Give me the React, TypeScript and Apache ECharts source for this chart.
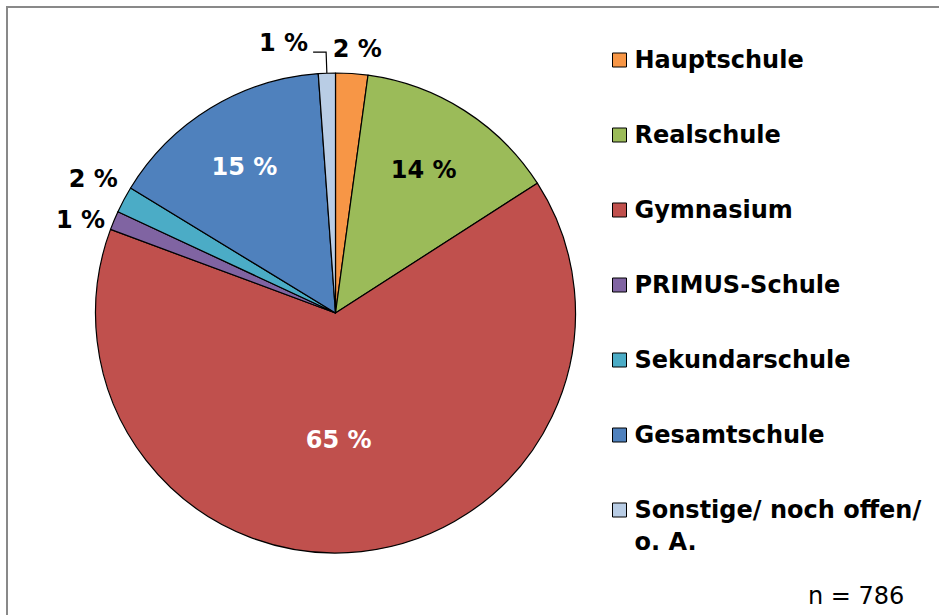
import React, { useEffect, useRef } from 'react';
import * as echarts from 'echarts';

const categories = [
  'Hauptschule',
  'Realschule',
  'Gymnasium',
  'PRIMUS-Schule',
  'Sekundarschule',
  'Gesamtschule',
  'Sonstige/ noch offen/ o. A.',
];
const counts = [17, 108, 509, 10, 14, 119, 9];
const colors = ['#F79646', '#9BBB59', '#C0504D', '#8064A2', '#4BACC6', '#4F81BD', '#B9CDE5'];
const labelPlacement = ['outside', 'inside', 'inside', 'outside', 'outside', 'inside', 'outside'];
const labelColors = ['#000', '#000', '#fff', '#000', '#000', '#fff', '#000'];
const labelNudge: (number[] | null)[] = [[-24, -25], [22, -39], [-10, 5], [-4, 0], [-1, -21], [-27, -41], null];

export default function App() {
  const ref = useRef<HTMLDivElement>(null);
  useEffect(() => {
    const chart = echarts.init(ref.current!, null, { renderer: 'svg' });
    const font = 'DejaVu Sans';
    const total = counts.reduce((a, b) => a + b, 0);
    const data = categories.map((name, i) => ({
      name,
      value: counts[i],
      itemStyle: { color: colors[i] },
      label: {
        position: labelPlacement[i],
        color: labelColors[i],
        lineHeight: i === 6 ? 18 : undefined,
      },
      labelLine: { show: i === 6, length: i === 6 ? 21 : 0, length2: i === 6 ? 13 : 0 },
    }));
    const legendText = {
      fontFamily: font,
      fontWeight: 'bold',
      fontSize: 24,
      lineHeight: 32,
      color: '#000',
      padding: [0, 0, 0, 3],
    };
    chart.setOption({
      animation: false,
      backgroundColor: '#fff',
      graphic: [
        {
          type: 'rect',
          silent: true,
          shape: { x: 7, y: 7, width: 1000, height: 1000 },
          style: { fill: 'none', stroke: '#898989', lineWidth: 2 },
        },
      ],
      title: {
        text: `n = ${total}`,
        left: 808,
        top: 584,
        padding: 0,
        textStyle: { fontFamily: font, fontWeight: 'normal', fontSize: 24, lineHeight: 24, color: '#000' },
      },
      legend: [
        {
          data: categories.slice(0, 6),
          orient: 'vertical',
          left: 612,
          top: 44,
          padding: 0,
          itemGap: 43,
          itemWidth: 14,
          itemHeight: 14,
          icon: 'rect',
          selectedMode: false,
          itemStyle: { borderColor: '#000', borderWidth: 1 },
          textStyle: legendText,
        },
        {
          data: categories.slice(6),
          orient: 'vertical',
          left: 612,
          top: 462,
          padding: 0,
          itemWidth: 14,
          itemHeight: 14,
          icon: 'rect',
          selectedMode: false,
          itemStyle: { borderColor: '#000', borderWidth: 1 },
          formatter: (n: string) => '\n' + n.replace('/ o.', '/\no.'),
          textStyle: legendText,
        },
      ],
      series: [
        {
          type: 'pie',
          center: [335.5, 313],
          radius: 240,
          startAngle: 90,
          clockwise: true,
          avoidLabelOverlap: false,
          itemStyle: { borderColor: '#000', borderWidth: 1.2 },
          label: {
            fontFamily: font,
            fontWeight: 'bold',
            fontSize: 24,
            distanceToLabelLine: 5,
            formatter: (p: any) => `${Math.round(p.percent)} %` + (p.dataIndex === 6 ? '\n' : ''),
          },
          labelLine: { lineStyle: { color: '#000', width: 1.2 } },
          labelLayout: (p: any) => {
            const n = labelNudge[p.dataIndex];
            return n ? { dx: n[0], dy: n[1] } : {};
          },
          emphasis: { disabled: true },
          data,
        },
      ],
    });
    return () => chart.dispose();
  }, []);
  return <div ref={ref} style={{ position: 'fixed', left: 0, top: 0, width: 939, height: 615 }} />;
}
